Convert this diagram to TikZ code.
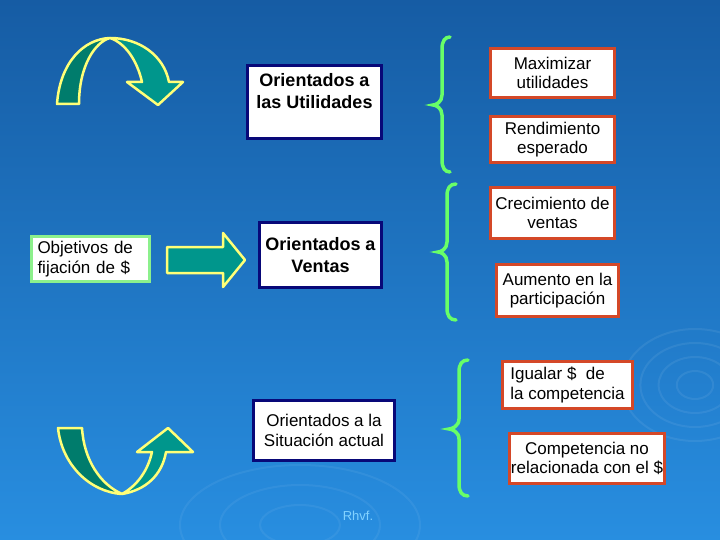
\documentclass[tikz,border=0pt]{standalone}
\usepackage{fontspec}
\setmainfont{Liberation Sans}
\usepackage{tikz}
\usetikzlibrary{calc}
\usetikzlibrary{shapes}
\definecolor{bgtop}{RGB}{22,92,164}
\definecolor{bgbot}{RGB}{40,142,224}
\definecolor{navyline}{RGB}{8,8,120}
\definecolor{redline}{RGB}{212,72,40}
\definecolor{boxgreen}{RGB}{140,240,140}
\definecolor{bracegreen}{RGB}{104,255,104}
\definecolor{tealdark}{RGB}{0,124,108}
\definecolor{teallight}{RGB}{0,150,140}
\definecolor{arrowline}{RGB}{255,255,120}
\definecolor{signcol}{RGB}{130,210,255}
% tip x, stem x, cusp x, top y, cusp y, bottom y
\newcommand{\curlybrace}[6]{%
  \draw[bracestyle] (#1,#4) .. controls (#2+3,#4) and (#2,#4+4) .. (#2,#4+12)
    -- (#2,#5-10) .. controls (#2,#5-3) and (#3+3,#5) .. (#3,#5)
    .. controls (#3+3,#5) and (#2,#5+3) .. (#2,#5+10)
    -- (#2,#6-12) .. controls (#2,#6-4) and (#2+3,#6) .. (#1,#6);}

\begin{document}
\begin{tikzpicture}[x=1pt,y=-1pt,
    navybox/.style={draw=navyline, line width=3pt, fill=white, inner sep=0pt,
      align=center, font=\fontsize{18}{22}\selectfont\bfseries},
    plainbox/.style={navybox, font=\fontsize{17}{19.5}\selectfont},
    redbox/.style={draw=redline, line width=3pt, fill=white, inner sep=0pt,
      align=center, font=\fontsize{17}{19.5}\selectfont},
    bracestyle/.style={bracegreen, line width=3.5pt, line cap=round},
    bandstyle/.style={draw=arrowline, line width=2.5pt, line join=round}]
    \useasboundingbox (0,0) rectangle (720,540);
    % Background
    \fill[top color=bgtop, bottom color=bgbot] (0,0) rectangle (720,540);
    \foreach \r in {14,28,42,56}
      \draw[white, opacity=0.07, line width=2pt] (695,385) ellipse ({\r*1.3} and \r);
    \foreach \r in {20,40,60}
      \draw[white, opacity=0.06, line width=2pt] (300,525) ellipse ({\r*2} and \r);
    %
    % Objective boxes
    \node[navybox, minimum width=134, minimum height=73] (util) at (314.5,102)
      {Orientados a\\las Utilidades\\\mbox{}};
    \node[navybox, minimum width=122, minimum height=65] (ventas) at (320.5,255)
      {Orientados a\\Ventas};
    \node[plainbox, minimum width=141, minimum height=60] (situacion) at (324,430.5)
      {Orientados a la\\Situación actual};
    \node[draw=boxgreen, line width=3pt, fill=white, inner ysep=0pt, inner xsep=6pt,
      text width=106pt, minimum height=45, align=left,
      font=\fontsize{17}{19.5}\selectfont] (objetivos) at (90.5,259)
      {Objetivos de\\fijación de \$};
    %
    % Sub-objectives
    \node[redbox, minimum width=124, minimum height=49] (maxim) at (552.5,73)
      {Maximizar\\utilidades};
    \node[redbox, minimum width=124, minimum height=46] (rend) at (552.5,139.5)
      {Rendimiento\\esperado};
    \node[redbox, minimum width=124, minimum height=51] (crec) at (552.5,213)
      {Crecimiento de\\ventas};
    \node[redbox, minimum width=122, minimum height=52] (aumento) at (557.5,290.5)
      {Aumento en la\\participación};
    \node[redbox, minimum width=130, minimum height=47, align=left] (igualar) at (567.5,385)
      {Igualar \$~ de\\la competencia};
    \node[redbox, minimum width=155, minimum height=50] (compet) at (587,458.5)
      {Competencia no\\relacionada con el \$};
    %
    % Braces
    \curlybrace{450}{442}{433}{37}{105}{172}
    \curlybrace{456}{447}{438}{184}{252}{320}
    \curlybrace{468}{459}{449}{360}{429}{496}
    %
    % Block arrows
    \draw[bandstyle, fill=teallight] (167,247) -- (223,247) -- (223,233) -- (245,260)
      -- (223,287) -- (223,273) -- (167,273) -- cycle;
    % top curved arrow
    \draw[bandstyle, fill=tealdark] (57,104) .. controls (60,62) and (84,39) .. (110,38)
      .. controls (95,42) and (79,66) .. (79,104) -- cycle;
    \draw[bandstyle, fill=teallight] (110,38) .. controls (140,38) and (164,56) .. (169,82)
      -- (183,82) -- (158,105) -- (127,82) -- (142,82)
      .. controls (137,60) and (125,43) .. (110,38) -- cycle;
    % bottom curved arrow
    \draw[bandstyle, fill=tealdark] (58,428) .. controls (62,465) and (90,492) .. (122,494)
      .. controls (100,484) and (84,460) .. (82,428) -- cycle;
    \draw[bandstyle, fill=teallight] (122,494) .. controls (146,490) and (162,475) .. (166,452)
      -- (193,452) -- (168,428) -- (137,452) -- (152,452)
      .. controls (148,470) and (138,485) .. (122,494) -- cycle;
    %
    \node[signcol, font=\fontsize{13}{15}\selectfont] (sign) at (358,516) {Rhvf.};
\end{tikzpicture}
\end{document}
